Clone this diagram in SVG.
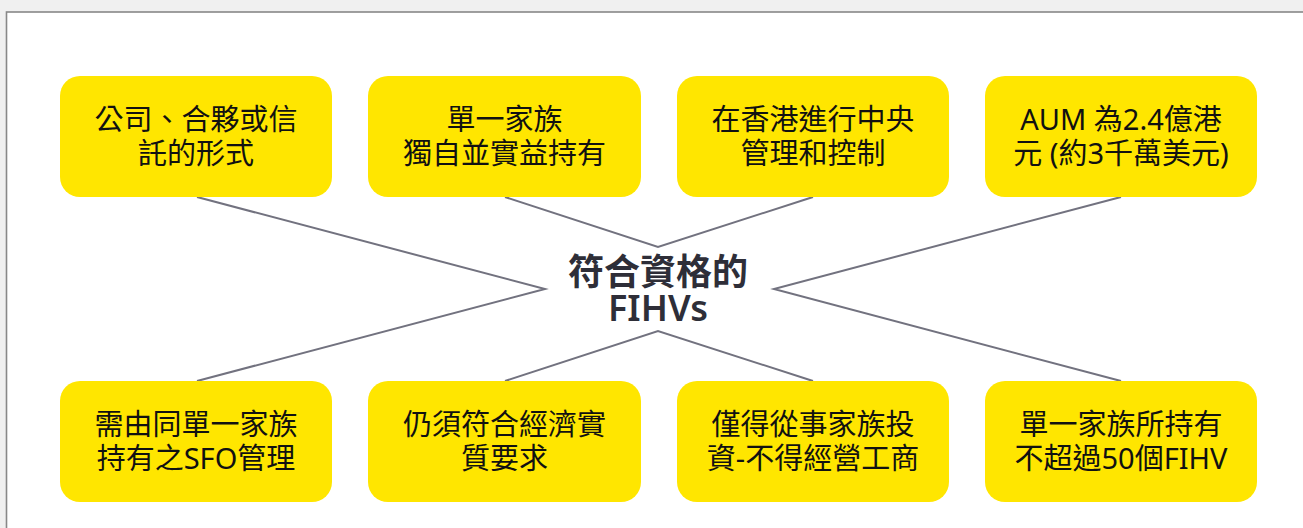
<svg xmlns="http://www.w3.org/2000/svg" width="1303" height="528" viewBox="0 0 1303 528">
<style>
.box{fill:#ffe600}
.t{font-family:"Noto Sans","Noto Sans CJK TC",sans-serif;font-size:29px;fill:#111;text-anchor:middle}
.c{font-family:"Noto Sans","Noto Sans CJK TC",sans-serif;font-size:36px;font-weight:600;fill:#2e2e38;text-anchor:middle}
.ln{fill:none;stroke:#72727f;stroke-width:2}
</style>
<rect x="0" y="0" width="1303" height="528" fill="#f0f0f0"/>
<rect x="6.5" y="12" width="1310" height="530" fill="#ffffff" stroke="#888888" stroke-width="1.6"/>
<g id="connectors">
<polyline class="ln" points="197,197 545,289 197,381"/>
<polyline class="ln" points="1121,197 774,289 1121,381"/>
<polyline class="ln" points="505,197 658,247 813,197"/>
<polyline class="ln" points="505,381 658,331 813,381"/>
</g>
<g id="center">
<text class="c" x="658" y="285">符合資格的</text>
<text class="c" x="658" y="321">FIHVs</text>
</g>
<g id="n1"><rect class="box" x="60" y="76" width="272" height="121" rx="20"/>
<text class="t" x="196" y="130">公司、合夥或信</text><text class="t" x="196" y="164">託的形式</text></g>
<g id="n2"><rect class="box" x="368" y="76" width="273" height="121" rx="20"/>
<text class="t" x="504.5" y="130">單一家族</text><text class="t" x="504.5" y="164">獨自並實益持有</text></g>
<g id="n3"><rect class="box" x="677" y="76" width="272" height="121" rx="20"/>
<text class="t" x="813" y="130">在香港進行中央</text><text class="t" x="813" y="164">管理和控制</text></g>
<g id="n4"><rect class="box" x="985" y="76" width="272" height="121" rx="20"/>
<text class="t" x="1121" y="130">AUM 為2.4億港</text><text class="t" x="1121" y="164">元 (約3千萬美元)</text></g>
<g id="n5"><rect class="box" x="60" y="381" width="272" height="121" rx="20"/>
<text class="t" x="196" y="435">需由同單一家族</text><text class="t" x="196" y="469">持有之SFO管理</text></g>
<g id="n6"><rect class="box" x="368" y="381" width="273" height="121" rx="20"/>
<text class="t" x="504.5" y="435">仍須符合經濟實</text><text class="t" x="504.5" y="469">質要求</text></g>
<g id="n7"><rect class="box" x="677" y="381" width="272" height="121" rx="20"/>
<text class="t" x="813" y="435">僅得從事家族投</text><text class="t" x="813" y="469">資-不得經營工商</text></g>
<g id="n8"><rect class="box" x="985" y="381" width="272" height="121" rx="20"/>
<text class="t" x="1121" y="435">單一家族所持有</text><text class="t" x="1121" y="469">不超過50個FIHV</text></g>
</svg>
